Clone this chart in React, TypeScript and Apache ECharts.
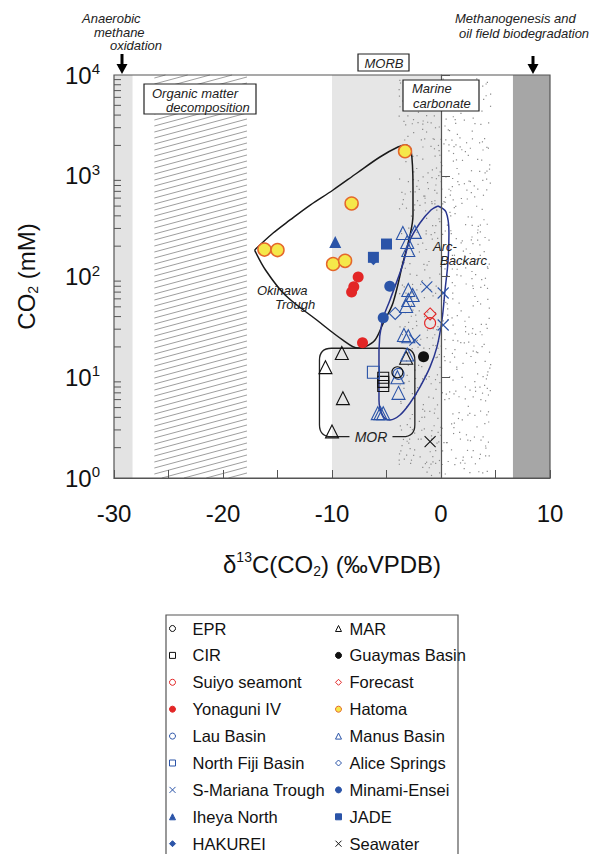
import React, { useEffect, useRef } from 'react';
import * as echarts from 'echarts';

const FONT = '"Liberation Sans", Arial, Helvetica, sans-serif';

// axis ranges
const X_RANGE = [-30, 10];
const Y_RANGE = [1, 10000];
const Y_DECADES = [1, 10, 100, 1000];
const Y_MINOR = [2, 3, 4, 5, 6, 7, 8, 9];

// background process bands (δ13C ranges)
const bandAnaerobic = [-30, -28.3];
const bandOrganic = [-26.3, -17.8];
const bandMORB = [-10, 0];
const bandCarbonate = [-3.9, 4.5];
const bandMethanogenesis = [6.6, 10];

// MOR field (rounded box)
const morX = [-11.15, -2.4];
const morY = [2.57, 19.4];

// Okinawa Trough field outline
const okinawaX = [-17.1, -15.4, -13.85, -12.0, -9.9, -7.7, -5.6, -3.95, -3.2, -2.75, -2.57, -2.57, -2.84, -3.5, -4.4, -5.3, -6.05, -6.95, -7.6, -9.0, -11.4, -14.3, -16.1, -17.1];
const okinawaY = [183, 270, 364, 512, 722, 1065, 1535, 1930, 2020, 1800, 773, 408, 258, 136, 55, 34.5, 23.4, 20, 19.5, 23.4, 37, 65.5, 116, 183];

// Arc-Backarc field outline
const arcX = [-0.28, 0.46, 0.73, 0.64, 0.37, 0.09, -0.37, -1.01, -1.93, -2.84, -3.76, -4.68, -5.32, -5.69, -5.69, -5.69, -5.41, -4.68, -3.58, -2.84, -1.93, -0.92, -0.28];
const arcY = [501, 437, 270, 139, 73.5, 37, 20, 12.6, 8.0, 5.55, 4.22, 3.77, 4.12, 5.95, 10.5, 18.6, 35.3, 58.5, 124, 230, 340, 457, 501];

// samples: [δ13C, CO2 mM]
const EPR = [[-4.0, 11.2]];
const MAR = [[-9.1, 17.4], [-10.6, 12.6], [-9.0, 6.2], [-10.0, 2.9], [-3.2, 15.6]];
const CIR = [[-5.3, 9.9], [-5.3, 9.0], [-5.3, 8.2]];
const GUAYMAS = [[-1.6, 16]];
const SUIYO = [[-1.0, 34.5]];
const FORECAST = [[-1.0, 42.5]];
const YONAGUNI = [[-7.6, 99], [-8.0, 79], [-8.2, 70], [-7.2, 22]];
const HATOMA = [[-3.3, 1750], [-8.2, 530], [-16.2, 185], [-15.0, 183], [-9.9, 133], [-8.8, 143]];
const LAU = [[-3.9, 10.8]];
const MANUS = [[-3.5, 270], [-2.4, 277], [-3.1, 220], [-3.0, 183], [-3.0, 73.5], [-2.6, 65.5], [-3.0, 58.5], [-3.2, 51], [-3.4, 26.3], [-3.0, 25.5], [-3.1, 16.8], [-4.0, 10.0], [-3.9, 7.0], [-5.8, 4.4], [-5.3, 4.4], [-5.55, 4.4]];
const NORTH_FIJI = [[-6.2, 11.2]];
const ALICE = [[-4.2, 43]];
const S_MARIANA = [[-1.3, 78.7], [0.2, 68.6], [0.2, 33], [-2.4, 23.4]];
const MINAMI = [[-4.7, 80], [-5.3, 39]];
const IHEYA = [[-9.7, 220]];
const JADE = [[-5.0, 210], [-6.2, 155]];
const HAKUREI = [[-6.2, 142]];
const SEAWATER = [[-1.0, 2.3]];

const legendLeft = ['EPR', 'CIR', 'Suiyo seamont', 'Yonaguni IV', 'Lau Basin', 'North Fiji Basin', 'S-Mariana Trough', 'Iheya North', 'HAKUREI'];
const legendRight = ['MAR', 'Guaymas Basin', 'Forecast', 'Hatoma', 'Manus Basin', 'Alice Springs', 'Minami-Ensei', 'JADE', 'Seawater'];

const BLUE = '#2b54a8';
const RED = '#e32626';
const BLACK = '#111111';
const NONE = 'rgba(0,0,0,0)';
const XSYM = 'path://M0,0L10,10M10,0L0,10';

function sc(name: string, data: number[][], symbol: string, size: number, fill: string, stroke: string, bw: number) {
  return {
    type: 'scatter', name, data, symbol, symbolSize: size, z: 5,
    itemStyle: { color: fill, borderColor: stroke, borderWidth: bw, opacity: 1 },
    emphasis: { disabled: true },
  };
}

function hash(i: number, j: number) {
  const s = Math.sin(i * 12.9898 + j * 78.233) * 43758.5453;
  return s - Math.floor(s);
}

function renderBackground(params: any, api: any) {
  const cs = params.coordSys;
  const top = cs.y, bottom = cs.y + cs.height, left = cs.x;
  const px = (v: number) => api.coord([v, 1])[0];
  const children: any[] = [];
  const band = (r: number[], fill: string) => {
    const x1 = px(r[0]), x2 = px(r[1]);
    children.push({ type: 'rect', shape: { x: x1, y: top, width: x2 - x1, height: bottom - top }, style: { fill } });
  };
  band(bandAnaerobic, '#e3e3e3');
  band(bandMORB, '#e6e6e6');
  band(bandMethanogenesis, '#a6a6a6');
  // hatching
  const hx1 = px(bandOrganic[0]), hx2 = px(bandOrganic[1]);
  const rise = (hx2 - hx1) * 0.27;
  const slope = -rise / (hx2 - hx1);
  for (let y0 = top + 3; y0 < bottom + rise; y0 += 6) {
    let xa = hx1, ya = y0, xb = hx2, yb = y0 - rise;
    if (ya > bottom) { xa = hx1 + (bottom - y0) / slope; ya = bottom; }
    if (yb < top) { xb = hx1 + (top - y0) / slope; yb = top; }
    if (xa >= xb) continue;
    children.push({ type: 'line', shape: { x1: xa, y1: ya, x2: xb, y2: yb }, style: { stroke: '#858585', lineWidth: 0.8 } });
  }
  // stipple
  const sx1 = px(bandCarbonate[0]), sx2 = px(bandCarbonate[1]);
  const step = 5;
  for (let i = 0; sx1 + i * step < sx2; i++) {
    for (let j = 0; top + j * step < bottom - 2; j++) {
      if (hash(i, j) < 0.45) {
        const x = sx1 + i * step + hash(i + 101, j + 37) * step;
        const y = top + 2 + j * step + hash(i + 53, j + 211) * step;
        if (x > sx2 || y > bottom - 1) continue;
        children.push({ type: 'rect', shape: { x, y, width: 1.2, height: 1.2 }, style: { fill: '#8a8a8a' } });
      }
    }
  }
  // minor ticks on y axis
  Y_DECADES.forEach((d) => {
    Y_MINOR.forEach((m) => {
      const y = api.coord([X_RANGE[0], d * m])[1];
      children.push({ type: 'line', shape: { x1: left, y1: y, x2: left + 7, y2: y }, style: { stroke: '#555', lineWidth: 1 } });
    });
  });
  // MOR box with gap for label
  const [bx1, by2] = api.coord([morX[0], morY[0]]);
  const [bx2, by1] = api.coord([morX[1], morY[1]]);
  const r = 12;
  const gx1 = bx1 + 30, gx2 = bx1 + 73;
  const d = `M${gx2},${by2} L${bx2 - r},${by2} Q${bx2},${by2} ${bx2},${by2 - r} L${bx2},${by1 + r} Q${bx2},${by1} ${bx2 - r},${by1} L${bx1 + r},${by1} Q${bx1},${by1} ${bx1},${by1 + r} L${bx1},${by2 - r} Q${bx1},${by2} ${bx1 + r},${by2} L${gx1},${by2}`;
  children.push({ type: 'path', shape: { pathData: d }, style: { fill: 'none', stroke: '#222', lineWidth: 1.3 } });
  children.push({ type: 'text', x: (gx1 + gx2) / 2, y: by2, style: { text: 'MOR', fontFamily: FONT, fontStyle: 'italic', fontSize: 14, fill: '#222', align: 'center', verticalAlign: 'middle' } });
  return { type: 'group', children };
}

function zip(xs: number[], ys: number[]) {
  return xs.map((x, i) => [x, ys[i]]);
}

function txt(x: number, y: number, text: string, extra: any = {}) {
  return {
    type: 'text', x, y, z: 50,
    style: { text, fontFamily: FONT, fontStyle: 'italic', fontSize: 13, lineHeight: 12, fill: '#222', align: 'left', verticalAlign: 'middle', textAlign: 'left', textVerticalAlign: 'middle', ...extra },
  };
}

function box(x: number, y: number, w: number, h: number) {
  return { type: 'rect', z: 49, shape: { x, y, width: w, height: h }, style: { fill: '#fff', stroke: '#222', lineWidth: 1.2 } };
}

function arrow(x: number, y1: number, y2: number) {
  return {
    type: 'group', z: 50,
    children: [
      { type: 'line', shape: { x1: x, y1, x2: x, y2: y2 - 8 }, style: { stroke: '#000', lineWidth: 3 } },
      { type: 'polygon', shape: { points: [[x - 5.5, y2 - 10], [x + 5.5, y2 - 10], [x, y2]] }, style: { fill: '#000' } },
    ],
  };
}

export default function App() {
  const ref = useRef<HTMLDivElement>(null);
  useEffect(() => {
    const chart = echarts.init(ref.current!, null, { renderer: 'svg' });
    const legendCommon = {
      orient: 'vertical', top: 620, height: 300, padding: 0, itemWidth: 6, itemHeight: 6, itemGap: 9.9,
      selectedMode: false,
      itemStyle: { borderWidth: 1 },
    };
    const legendText = { fontSize: 16.5, color: '#111', fontFamily: FONT };
    const option: any = {
      animation: false,
      backgroundColor: '#fff',
      textStyle: { fontFamily: FONT },
      grid: { left: 114, top: 75, width: 436, height: 403, show: true, borderColor: '#555', borderWidth: 1.2, z: 10, backgroundColor: 'transparent' },
      xAxis: {
        type: 'value', min: X_RANGE[0], max: X_RANGE[1], interval: 5, z: 10,
        axisLine: { lineStyle: { color: '#555', width: 1.2 } },
        axisTick: { inside: true, length: 8, lineStyle: { color: '#555' } },
        splitLine: { show: false },
        axisLabel: { fontSize: 24, color: '#111', margin: 23, fontFamily: FONT, formatter: (v: number) => (v % 10 === 0 ? String(v) : '') },
        name: '{t|δ}{sup|13}{t|C(CO}{sub|2}{t|) (‰VPDB)}',
        nameLocation: 'middle', nameGap: 72,
        nameTextStyle: {
          fontFamily: FONT, color: '#111', fontSize: 24,
          rich: {
            t: { fontSize: 24, fontFamily: FONT, color: '#111', lineHeight: 28 },
            sup: { fontSize: 14, fontFamily: FONT, color: '#111', verticalAlign: 'top', lineHeight: 18 },
            sub: { fontSize: 14, fontFamily: FONT, color: '#111', verticalAlign: 'bottom', lineHeight: 14 },
          },
        },
      },
      yAxis: {
        type: 'log', logBase: 10, min: Y_RANGE[0], max: Y_RANGE[1], z: 10,
        axisLine: { show: true, lineStyle: { color: '#555', width: 1.2 } },
        axisTick: { show: true, inside: true, length: 9, lineStyle: { color: '#555' } },
        splitLine: { show: false },
        axisLabel: {
          margin: 14, color: '#111', fontFamily: FONT,
          formatter: (v: number) => `{b|10}{s|${Math.round(Math.log10(v))}}`,
          rich: {
            b: { fontSize: 24, fontFamily: FONT, color: '#111', lineHeight: 28 },
            s: { fontSize: 15, fontFamily: FONT, color: '#111', verticalAlign: 'top', lineHeight: 18 },
          },
        },
        name: '{t|CO}{sub|2}{t| (mM)}',
        nameLocation: 'middle', nameGap: 74,
        nameTextStyle: {
          fontFamily: FONT, color: '#111', fontSize: 24,
          rich: {
            t: { fontSize: 24, fontFamily: FONT, color: '#111', lineHeight: 28 },
            sub: { fontSize: 14, fontFamily: FONT, color: '#111', verticalAlign: 'bottom', lineHeight: 14 },
          },
        },
      },
      legend: [
        { ...legendCommon, left: 169, data: legendLeft, textStyle: { ...legendText, padding: [0, 0, 0, 12] } },
        { ...legendCommon, left: 335, data: legendRight, textStyle: { ...legendText, padding: [0, 0, 0, 3] } },
      ],
      series: [
        { type: 'custom', name: 'bg', renderItem: renderBackground, data: [[0, 1]], z: 1, silent: true, clip: false },
        { type: 'line', name: 'Okinawa Trough field', data: zip(okinawaX, okinawaY), smooth: 0.35, symbol: 'none', z: 4, lineStyle: { color: '#1a1a1a', width: 1.5 }, silent: true },
        { type: 'line', name: 'Arc-Backarc field', data: zip(arcX, arcY), smooth: 0.35, symbol: 'none', z: 4, lineStyle: { color: '#28358f', width: 1.5 }, silent: true },
        sc('MAR', MAR, 'triangle', 13, NONE, BLACK, 1.1),
        sc('Manus Basin', MANUS, 'triangle', 13, NONE, BLUE, 1.1),
        sc('CIR', CIR, 'rect', 11, NONE, BLACK, 1.1),
        sc('North Fiji Basin', NORTH_FIJI, 'rect', 12, NONE, BLUE, 1.1),
        sc('Lau Basin', LAU, 'circle', 11, NONE, BLUE, 1.1),
        sc('EPR', EPR, 'circle', 11, NONE, BLACK, 1.1),
        sc('Alice Springs', ALICE, 'diamond', 12, NONE, BLUE, 1.1),
        sc('Suiyo seamont', SUIYO, 'circle', 11, NONE, RED, 1.1),
        sc('Forecast', FORECAST, 'diamond', 12, NONE, RED, 1.1),
        sc('S-Mariana Trough', S_MARIANA, XSYM, 11, BLUE, BLUE, 1.1),
        sc('Seawater', SEAWATER, XSYM, 11, BLACK, BLACK, 1.1),
        sc('Guaymas Basin', GUAYMAS, 'circle', 11, BLACK, BLACK, 0),
        sc('Yonaguni IV', YONAGUNI, 'circle', 11, RED, RED, 0),
        sc('Hatoma', HATOMA, 'circle', 13, '#f5e84a', '#e5672b', 1.5),
        sc('Minami-Ensei', MINAMI, 'circle', 11, BLUE, BLUE, 0),
        sc('Iheya North', IHEYA, 'triangle', 12, BLUE, BLUE, 0),
        sc('HAKUREI', HAKUREI, 'diamond', 8, BLUE, BLUE, 0),
        sc('JADE', JADE, 'rect', 11, BLUE, BLUE, 0),
      ],
      graphic: [
        txt(82, 18, 'Anaerobic'),
        txt(94, 32, 'methane'),
        txt(110, 45, 'oxidation'),
        arrow(122, 54, 74),
        txt(455, 18, 'Methanogenesis and'),
        txt(459, 33, 'oil field biodegradation'),
        arrow(533, 56, 74),
        box(358, 54, 51, 17),
        txt(384, 63, 'MORB', { align: 'center', textAlign: 'center' }),
        box(144, 84, 112, 30),
        txt(152, 93, 'Organic matter'),
        txt(166, 107, 'decomposition'),
        box(403, 80, 76, 31),
        txt(412, 88, 'Marine'),
        txt(413, 103, 'carbonate'),
        txt(257, 290, 'Okinawa'),
        txt(275, 304, 'Trough'),
        txt(433, 246, 'Arc-'),
        txt(440, 260, 'Backarc'),
        { type: 'rect', z: 40, shape: { x: 166, y: 615, width: 292, height: 250 }, style: { fill: 'none', stroke: '#555', lineWidth: 1.2 } },
      ],
    };
    chart.setOption(option);
    return () => chart.dispose();
  }, []);
  return <div ref={ref} style={{ position: 'absolute', left: 0, top: 0, width: 596, height: 854, background: '#fff' }} />;
}
